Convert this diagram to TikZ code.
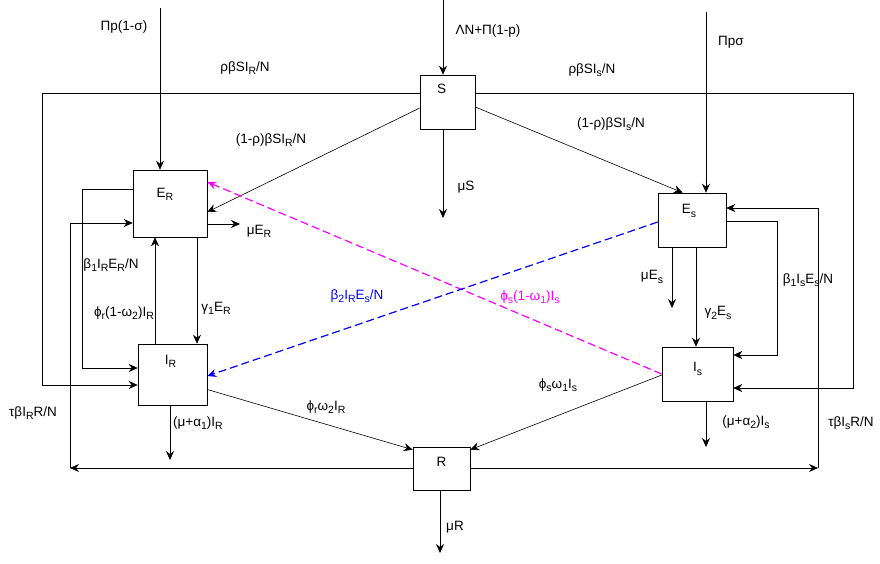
\documentclass[tikz,border=0pt]{standalone}
\usepackage{fontspec}
\setmainfont{Liberation Sans}
\usetikzlibrary{arrows.meta}
\definecolor{mag}{RGB}{255,0,255}
\newcommand{\sbs}[1]{\raisebox{-0.45ex}{\fontsize{10.5}{11}\selectfont #1}}

\begin{document}
\begin{tikzpicture}[x=1pt, y=-1pt,
    every node/.style={font=\fontsize{13.5}{15}\selectfont},
    box/.style={draw, rectangle, inner sep=0pt, line width=0.6pt},
    arr/.style={-{Stealth[length=9pt,width=8pt,inset=3pt]}, line width=0.6pt},
    flow/.style={arr, dash pattern=on 8pt off 4pt, line width=1.2pt}]
  \useasboundingbox (0,0) rectangle (880,563);

  % compartments
  \node[box, minimum width=55pt, minimum height=54pt, label={[xshift=-6pt,yshift=13pt]center:S}] (S) at (447.5,102) {};
  \node[box, minimum width=74pt, minimum height=67pt, label={[xshift=-5pt,yshift=9pt]center:E\sbs{R}}] (ER) at (170,203.5) {};
  \node[box, minimum width=69pt, minimum height=61pt, label={[xshift=-2pt,yshift=13pt]center:I\sbs{R}}] (IR) at (172.5,374.5) {};
  \node[box, minimum width=68pt, minimum height=54pt, label={[xshift=-3pt,yshift=9pt]center:E\sbs{s}}] (Es) at (692,220) {};
  \node[box, minimum width=71pt, minimum height=54pt, label={[yshift=5pt]center:I\sbs{s}}] (Is) at (697.5,374) {};
  \node[box, minimum width=57pt, minimum height=43pt, label={[yshift=7pt]center:R}] (R) at (441.5,468.5) {};

  \coordinate (inER) at (160,8);
  \coordinate (inS) at (443,0);
  \coordinate (inEs) at (706,12);
  \coordinate (tl) at (42,93);
  \coordinate (tr) at (853,93);
  \coordinate (bl) at (70,468);
  \coordinate (br) at (818,468);
  \coordinate (lpR) at (82,189);
  \coordinate (lpS) at (777,221);
  \coordinate (muS) at (443,218);
  \coordinate (muER) at (240,224);
  \coordinate (muEs) at (672,308);
  \coordinate (muIR) at (170,460);
  \coordinate (muIs) at (706,447);
  \coordinate (muR) at (440,553);
  \coordinate (gR) at ([xshift=27pt]ER.south);
  \coordinate (pR) at ([xshift=-15pt]ER.south);
  \coordinate (gS) at ([xshift=4pt]Es.south);

  % inflows
  \draw[arr] (inER) -- (inER |- ER.north);
  \draw[arr] (inS) -- (inS |- S.north);
  \draw[arr] (inEs) -- (inEs |- Es.north);

  % from S
  \draw[arr] ([yshift=9pt]S.west) -- (tl) |- ([yshift=-10.5pt]IR.west);
  \draw[arr] ([yshift=9pt]S.east) -- (tr) |- ([yshift=-14pt]Is.east);
  \draw[arr] ([yshift=-6pt]S.west) -- ([yshift=-8.5pt]ER.east);
  \draw[arr] ([yshift=-5pt]S.east) -- ([xshift=25pt]Es.north west);
  \draw[arr] (muS |- S.south) -- (muS);

  % resistant branch
  \draw[arr] (muER -| ER.east) -- (muER);
  \draw[arr] (gR) -- (gR |- IR.north);
  \draw[arr] (pR |- IR.north) -- (pR);
  \draw[arr] (lpR -| ER.west) -- (lpR) |- ([yshift=6.5pt]IR.west);
  \draw[arr] (muIR |- IR.south) -- (muIR);
  \draw[arr] ([yshift=-15pt]IR.east) -- ([yshift=-3pt]R.north west);

  % sensitive branch
  \draw[arr] (muEs |- Es.south) -- (muEs);
  \draw[arr] (gS) -- (gS |- Is.north);
  \draw[arr] (lpS -| Es.east) -- (lpS) |- ([yshift=19pt]Is.east);
  \draw[arr] (muIs |- Is.south) -- (muIs);
  \draw[arr] ([yshift=-1pt]Is.west) -- ([yshift=-3pt]R.north east);

  % from R
  \draw[arr] (bl -| R.west) -- (bl);
  \draw[arr] (bl) |- ([yshift=-19.5pt]ER.west);
  \draw[arr] (br -| R.east) -- (br);
  \draw[arr] (br) |- ([yshift=12pt]Es.east);
  \draw[arr] (muR |- R.south) -- (muR);

  % cross flows
  \draw[flow, mag] (Is.west) -- ([yshift=21.5pt]ER.east);
  \draw[flow, blue] ([yshift=-2pt]Es.west) -- ([yshift=-1.5pt]IR.east);

  % rates
  \node (tPiR) at (124,27) {Πp(1-σ)};
  \node (tInS) at (488,31) {ΛN+Π(1-p)};
  \node (tPiS) at (731,42) {Πpσ};
  \node (tSIR) at (245,68) {ρβSI\sbs{R}/N};
  \node (tSIs) at (592,70) {ρβSI\sbs{s}/N};
  \node (tSER) at (271,140) {(1-ρ)βSI\sbs{R}/N};
  \node (tSEs) at (611,124) {(1-ρ)βSI\sbs{s}/N};
  \node (tmuS) at (466,187) {μS};
  \node (tmuER) at (259,231) {μE\sbs{R}};
  \node (tb1R) at (111,265) {β\sbs{1}I\sbs{R}E\sbs{R}/N};
  \node (tphR) at (124,313) {ϕ\sbs{r}(1-ω\sbs{2})I\sbs{R}};
  \node (tg1) at (216,308) {γ\sbs{1}E\sbs{R}};
  \node (ttR) at (33,413) {τβI\sbs{R}R/N};
  \node (tmuIR) at (198,423) {(μ+α\sbs{1})I\sbs{R}};
  \node (tIRR) at (326,407) {ϕ\sbs{r}ω\sbs{2}I\sbs{R}};
  \node (tIsR) at (558,385) {ϕ\sbs{s}ω\sbs{1}I\sbs{s}};
  \node[text=blue] (tb2) at (357,296) {β\sbs{2}I\sbs{R}E\sbs{s}/N};
  \node[text=mag] (tphs) at (530,297) {ϕ\sbs{s}(1-ω\sbs{1})I\sbs{s}};
  \node (tmuEs) at (652,277) {μE\sbs{s}};
  \node (tg2) at (718,313) {γ\sbs{2}E\sbs{s}};
  \node (tb1s) at (808,280) {β\sbs{1}I\sbs{s}E\sbs{s}/N};
  \node (tmuIs) at (746,422) {(μ+α\sbs{2})I\sbs{s}};
  \node (ttS) at (851,423) {τβI\sbs{s}R/N};
  \node (tmuR) at (455,527) {μR};
\end{tikzpicture}
\end{document}
